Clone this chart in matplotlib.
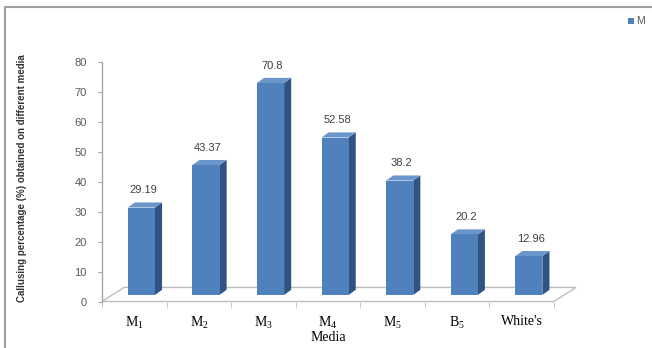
import numpy as np
import matplotlib
matplotlib.use('Agg')
import matplotlib.pyplot as plt
from matplotlib.patches import Polygon, Rectangle

# data
media = ['M_{1}', 'M_{2}', 'M_{3}', 'M_{4}', 'M_{5}', 'B_{5}', "White's"]
callus = [29.19, 43.37, 70.8, 52.58, 38.2, 20.2, 12.96]
yticks = [0, 10, 20, 30, 40, 50, 60, 70, 80]

W, H = 652, 348
fig = plt.figure(figsize=(W/100, H/100), dpi=100)
fig.patch.set_facecolor('white')

# axes placed in pixels: x 102..554, y 301.5..62
ax = fig.add_axes([102/W, (H-301.5)/H, (554-102)/W, (301.5-62)/H])
ax.set_xlim(0, len(media))
ax.set_ylim(0, 80)
ax.patch.set_alpha(0)

front_c = '#4f81bd'
side_c = '#2f5382'
top_c = '#6a96cc'

# 3d-ish offsets in data units
bar_x0 = 0.40     # left of front face within a category
bar_w = 0.42
lift = 2.2        # front face bottom raised above the floor edge
ddx, ddy = 0.11, 1.7   # bar depth
fdx, fdy = 0.34, 4.7   # floor depth

# floor
n = len(media)
floor = Polygon([(0, 0), (n, 0), (n+fdx, fdy), (fdx, fdy)], closed=True,
                facecolor='white', edgecolor='#bfbfbf', lw=1.0, clip_on=False, zorder=1)
ax.add_patch(floor)

for i, v in enumerate(callus):
    x0 = i + bar_x0
    x1 = x0 + bar_w
    y0 = lift
    y1 = lift + v
    side = Polygon([(x1, y0), (x1+ddx, y0+ddy), (x1+ddx, y1+ddy), (x1, y1)],
                   closed=True, facecolor=side_c, edgecolor='none', clip_on=False, zorder=3)
    top = Polygon([(x0, y1), (x1, y1), (x1+ddx, y1+ddy), (x0+ddx, y1+ddy)],
                  closed=True, facecolor=top_c, edgecolor='none', clip_on=False, zorder=3)
    front = Rectangle((x0, y0), bar_w, v, facecolor=front_c, edgecolor='none',
                      clip_on=False, zorder=4)
    ax.add_patch(side)
    ax.add_patch(top)
    ax.add_patch(front)
    ax.text((x0+x1)/2 + 0.03, y1 + 5.7, '%g' % v, ha='center', va='center',
            fontsize=8, color='#404040', family='Liberation Sans', zorder=5)

for s in ['top', 'right', 'bottom']:
    ax.spines[s].set_visible(False)
ax.spines['left'].set_color('#a6a6a6')
ax.spines['left'].set_linewidth(1.0)

ax.set_yticks(yticks)
ax.set_yticklabels([str(t) for t in yticks], fontsize=8, color='#595959',
                   family='Liberation Sans')
ax.tick_params(axis='y', direction='out', length=3, color='#a6a6a6', pad=8)

ax.set_xticks(np.arange(n+1), minor=True)
ax.set_xticks(np.arange(n) + 0.5)
ax.set_xticklabels([r'$\mathregular{%s}$' % m if '_' in m else m for m in media],
                   fontsize=10, family='Liberation Serif', color='black')
ax.tick_params(axis='x', which='major', length=0, pad=10)
ax.tick_params(axis='x', which='minor', direction='out', length=4, color='#bfbfbf')
ax.set_xlabel('Media', fontsize=10, family='Liberation Serif', labelpad=0)

fig.text(22/W, (H-178)/H, 'Callusing percentage (%) obtained on different media',
         rotation=90, ha='center', va='center', fontsize=7, weight='bold',
         color='#333333', family='Liberation Sans')

# legend stub at top right (cut off in the original)
fig.patches.append(Rectangle((628/W, (H-24)/H), 6/W, 6/H, transform=fig.transFigure,
                             facecolor=front_c, edgecolor='none'))
fig.text(636/W, (H-21)/H, 'M', fontsize=7.5, color='#595959', va='center',
         family='Liberation Sans')

# outer chart frame
fig.patches.append(Rectangle((5/W, -0.05), 1.0, (H-7)/H + 0.05, transform=fig.transFigure,
                             facecolor='none', edgecolor='#a0a0a0', lw=1.5))

fig.savefig('out.png', dpi=100)
